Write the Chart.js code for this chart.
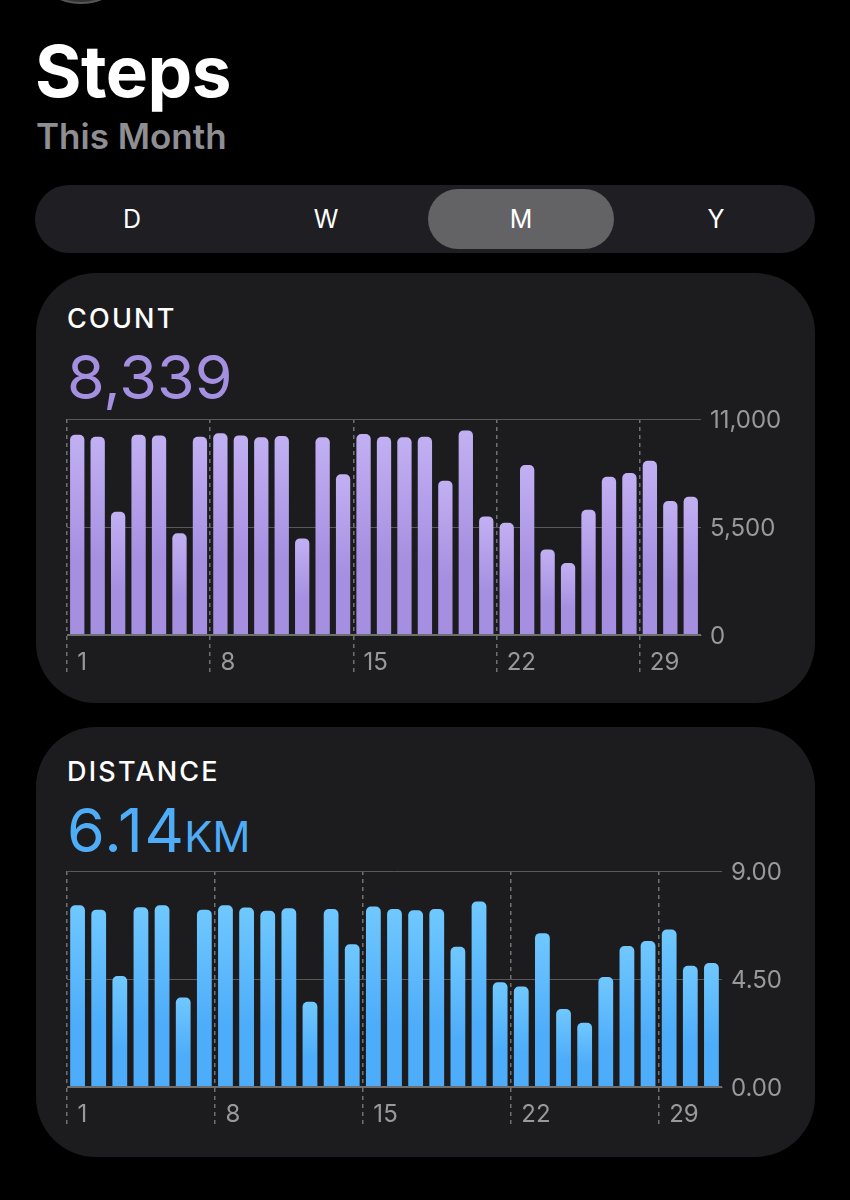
<!DOCTYPE html>
<html>
<head>
<meta charset="utf-8">
<title>Steps</title>
<script src="https://cdn.jsdelivr.net/npm/chart.js@4"></script>
<style>
  html, body { margin: 0; padding: 0; background: #000; }
  body { position: relative; width: 850px; height: 1200px; overflow: hidden; font-family: Inter, "Noto Sans", sans-serif; color: #fff; }
  .abs { position: absolute; white-space: nowrap; line-height: 1; }
  #avatar { position: absolute; left: 26px; top: -106px; width: 106px; height: 106px; border-radius: 50%; background: #333; border: 2px solid #555; }
  #title { left: 35px; top: 36px; font-size: 71px; font-weight: 700; letter-spacing: -0.5px; }
  #subtitle { left: 36px; top: 119px; font-size: 35px; font-weight: 600; color: #8e8e93; }
  #segments { position: absolute; left: 35px; top: 185px; width: 780px; height: 68px; border-radius: 34px; background: #1f1f23; }
  #selected { position: absolute; left: 428px; top: 189px; width: 186px; height: 60px; border-radius: 30px; background: #636366; }
  .seg { position: absolute; top: 207px; width: 60px; margin-left: -30px; text-align: center; font-size: 25px; line-height: 1; }
  .card { position: absolute; left: 36px; width: 779px; height: 430px; border-radius: 60px; background: #1c1c1e; }
  .label { left: 67px; font-size: 27px; font-weight: 500; letter-spacing: 2.2px; }
  .big { left: 67px; font-size: 61px; font-weight: 400; }
  .big small { font-size: 42px; margin-left: -1px; letter-spacing: 0; }
  canvas { position: absolute; left: 36px; }
</style>
</head>
<body>
<div id="avatar"></div>
<div class="abs" id="title">Steps</div>
<div class="abs" id="subtitle">This Month</div>
<div id="segments"></div>
<div id="selected"></div>
<div class="seg" style="left:132px">D</div>
<div class="seg" style="left:326px">W</div>
<div class="seg" style="left:521px">M</div>
<div class="seg" style="left:716px">Y</div>

<div class="card" style="top:273px"></div>
<div class="abs label" style="top:305px">COUNT</div>
<div class="abs big" style="top:347px;color:#a48fe0">8,339</div>
<canvas id="countChart" width="779" height="280" style="top:400px;width:779px;height:280px"></canvas>

<div class="card" style="top:727px"></div>
<div class="abs label" style="top:758px">DISTANCE</div>
<div class="abs big" style="top:800px;color:#4fadf8;letter-spacing:1.5px">6.14<small>KM</small></div>
<canvas id="distanceChart" width="779" height="280" style="top:852px;width:779px;height:280px"></canvas>

<script>
const days = ['1','2','3','4','5','6','7','8','9','10','11','12','13','14','15','16','17','18','19','20','21','22','23','24','25','26','27','28','29','30','31'];
const dayTicks = ['1','8','15','22','29'];

const countValues = [10200,10100,6280,10200,10165,5180,10100,10270,10165,10065,10130,4920,10065,8180,10230,10100,10065,10100,7860,10420,6040,5720,8655,4360,3665,6380,8060,8250,8875,6820,7040];
const countTicks = [0,5500,11000];
const countTickLabels = ['0','5,500','11,000'];

const distanceValues = [7.57,7.39,4.62,7.49,7.57,3.73,7.39,7.57,7.48,7.34,7.45,3.55,7.42,5.95,7.52,7.42,7.36,7.42,5.84,7.73,4.36,4.19,6.41,3.25,2.68,4.58,5.87,6.08,6.56,5.05,5.17];
const distanceTicks = [0,4.5,9];
const distanceTickLabels = ['0.00','4.50','9.00'];

function drawChart(id, values, ticks, tickLabels, colors, box) {
    const ctx = document.getElementById(id).getContext('2d');
    new Chart(ctx, {
        type: 'bar',
        data: {
            labels: days,
            datasets: [{
                data: values,
                barPercentage: 0.7,
                categoryPercentage: 1,
                borderRadius: { topLeft: 5, topRight: 5 },
                borderSkipped: false,
                // each bar has its own gradient, light at its top
                backgroundColor: function (c) {
                    const chart = c.chart;
                    if (!chart.chartArea || !c.parsed) return colors[1];
                    const top = chart.scales.y.getPixelForValue(c.parsed.y);
                    const bottom = chart.scales.y.getPixelForValue(0);
                    const g = chart.ctx.createLinearGradient(0, top, 0, bottom);
                    g.addColorStop(0, colors[0]);
                    g.addColorStop(0.65, colors[1]);
                    g.addColorStop(1, colors[1]);
                    return g;
                }
            }]
        },
        options: {
            responsive: false,
            animation: false,
            layout: { padding: { left: box.left, top: box.top, right: 0, bottom: 0 } },
            plugins: { legend: { display: false }, tooltip: { enabled: false } },
            scales: {
                x: {
                    afterFit: function (scale) { scale.height = 45; },
                    grid: {
                        offset: true,
                        tickLength: 38,
                        color: function (c) { return c.index % 7 === 0 ? '#707072' : 'transparent'; },
                        tickColor: function (c) { return c.index % 7 === 0 ? '#707072' : 'transparent'; },
                        tickBorderDash: [4, 4],
                        lineWidth: 1.5
                    },
                    border: { display: true, color: '#6f6f6f', width: 1, dash: [4, 4] },
                    ticks: {
                        autoSkip: false,
                        maxRotation: 0,
                        align: 'start',
                        padding: -25,
                        color: '#98989d',
                        font: { family: 'Inter', size: 24 },
                        callback: function (v) {
                            const label = days[v];
                            return dayTicks.includes(label) ? label : '';
                        }
                    }
                },
                y: {
                    position: 'right',
                    min: ticks[0],
                    max: ticks[2],
                    afterBuildTicks: function (scale) { scale.ticks = ticks.map(function (v) { return { value: v }; }); },
                    afterFit: function (scale) {
                        scale.width = box.right;
                        // the label overhang would push the plot top down
                        scale.paddingTop = 0;
                        scale.paddingBottom = 0;
                    },
                    grid: {
                        color: function (c) { return c.tick.value === 0 ? '#6f6f6f' : '#58585a'; },
                        lineWidth: function (c) { return c.tick.value === 0 ? 2 : 1; },
                        drawTicks: false
                    },
                    border: { display: false },
                    ticks: {
                        padding: 9,
                        labelOffset: 2,
                        color: '#98989d',
                        font: { family: 'Inter', size: 24 },
                        callback: function (v) { return tickLabels[ticks.indexOf(v)]; }
                    }
                }
            }
        }
    });
}

document.addEventListener("DOMContentLoaded", function () {
    // Count chart
    drawChart('countChart', countValues, countTicks, countTickLabels, ['#c2b0f3', '#a48fe0'], { left: 31, top: 19, right: 114 });
    // Distance chart
    drawChart('distanceChart', distanceValues, distanceTicks, distanceTickLabels, ['#70c8ff', '#4eadfa'], { left: 31, top: 19, right: 93 });
});
</script>
</body>
</html>
